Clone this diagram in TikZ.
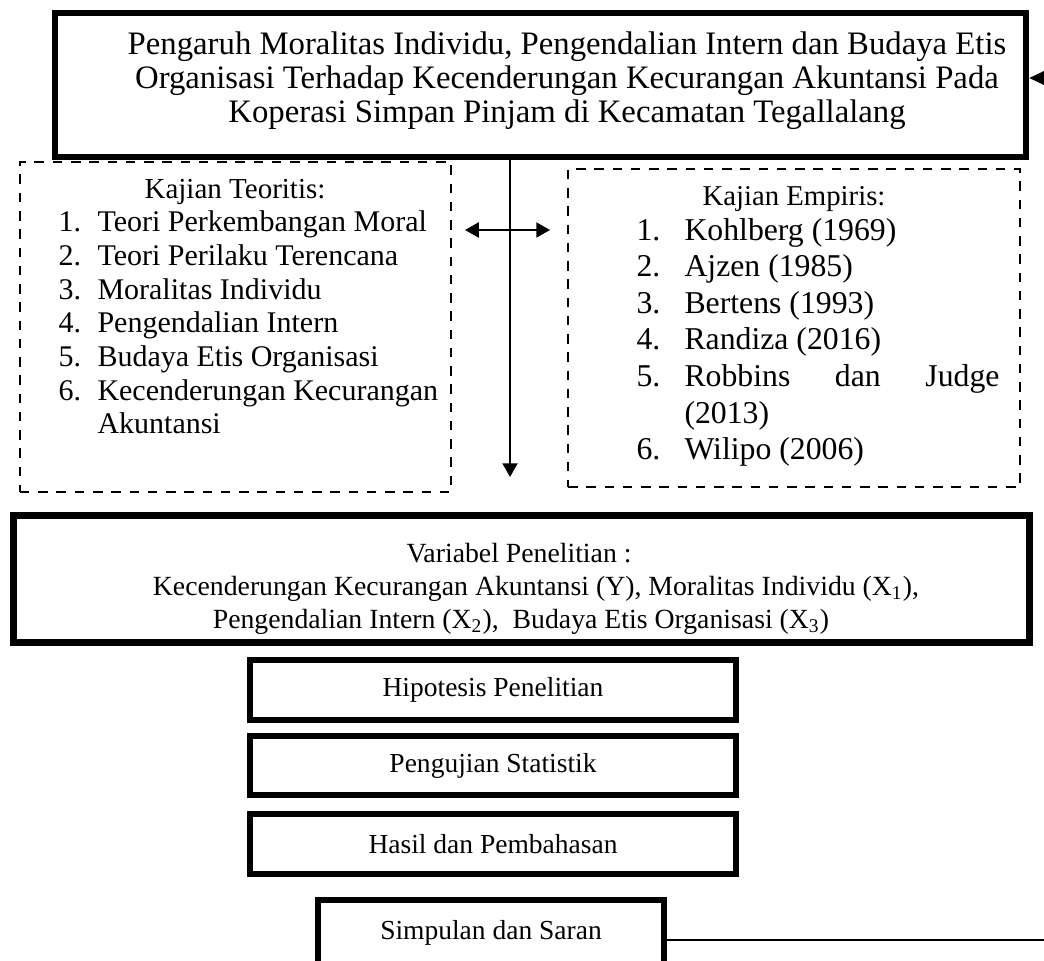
\documentclass[tikz,border=0pt]{standalone}
\usepackage{fontspec}
\setmainfont{Liberation Serif}
\usetikzlibrary{arrows.meta}
\tikzset{
	kotak/.style={draw, line width=2.6pt, inner sep=0pt, align=center, font=\fontsize{11}{13}\selectfont},
	putus/.style={draw, line width=0.8pt, dash pattern=on 3.8pt off 3.5pt, inner sep=0pt},
	teks/.style={inner sep=0pt, font=\fontsize{12}{13.5}\selectfont},
	teksb/.style={inner sep=0pt, font=\fontsize{12.7}{14.6}\selectfont},
	teksv/.style={inner sep=0pt, anchor=base, font=\fontsize{11.1}{13.2}\selectfont},
	panah/.style={line width=0.8pt, -{Triangle[length=5.5pt,width=6pt]}},
	duapanah/.style={line width=0.8pt, {Triangle[length=5.5pt,width=6pt]}-{Triangle[length=5.5pt,width=6pt]}},
}
\begin{document}
\begin{tikzpicture}[x=0.4pt,y=-0.4pt]
		\useasboundingbox (0,0) rectangle (1044,960);
		\clip (0,0) rectangle (1044,960);
		\node[kotak, minimum width=388.4pt, minimum height=57.6pt] (judul) at (540.5,85) {};
		\node[teks, anchor=base, font=\fontsize{13.1}{13.6}\selectfont] (judul1) at (567,54) {Pengaruh Moralitas Individu, Pengendalian Intern dan Budaya Etis};
		\node[teks, anchor=base, font=\fontsize{13.1}{13.6}\selectfont] (judul2) at (567,88) {Organisasi Terhadap Kecenderungan Kecurangan Akuntansi Pada};
		\node[teks, anchor=base, font=\fontsize{13.1}{13.6}\selectfont] (judul3) at (567,122) {Koperasi Simpan Pinjam di Kecamatan Tegallalang};
		\node[putus, minimum width=172.4pt, minimum height=132pt] (teori) at (235.5,327) {};
		\node[putus, minimum width=180.8pt, minimum height=127.2pt] (empiris) at (794,328) {};
		\node[teks, anchor=base, font=\fontsize{11.6}{13}\selectfont] (teori0) at (235,198) {Kajian Teoritis:};
		\foreach \i/\isi in {1/Teori Perkembangan Moral,2/Teori Perilaku Terencana,3/Moralitas Individu,4/Pengendalian Intern,5/Budaya Etis Organisasi,6/Kecenderungan Kecurangan}{
			\node[teks, anchor=base west] (tn\i) at (58,198+33.7*\i) {\i.};
			\node[teks, anchor=base west] (ti\i) at (97,198+33.7*\i) {\isi};
		}
		\node[teks, anchor=base west] (ti7) at (97,198+33.7*7) {Akuntansi};
		\node[teks, anchor=base, font=\fontsize{11.5}{13}\selectfont] (emp0) at (794,205) {Kajian Empiris:};
		\foreach \i/\isi in {1/Kohlberg (1969),2/Ajzen (1985),3/Bertens (1993),4/Randiza (2016)}{
			\node[teksb, anchor=base west] (en\i) at (636,203.4+36.6*\i) {\i.};
			\node[teksb, anchor=base west] (ei\i) at (684,203.4+36.6*\i) {\isi};
		}
		\node[teksb, anchor=base west] (en5) at (636,386.4) {5.};
		\node[teksb, anchor=base west] (ei5) at (684,386.4) {\makebox[126pt][s]{Robbins\hfill dan\hfill Judge}};
		\node[teksb, anchor=base west] (ei5b) at (684,423) {(2013)};
		\node[teksb, anchor=base west] (en6) at (636,459.6) {6.};
		\node[teksb, anchor=base west] (ei6) at (684,459.6) {Wilipo (2006)};
		\node[kotak, minimum width=406.4pt, minimum height=50.8pt] (variabel) at (521.5,579) {};
		\node[teksv] (var1) at (519,562) {Variabel Penelitian :};
		\node[teksv] (var2) at (536,595) {Kecenderungan Kecurangan Akuntansi (Y), Moralitas Individu (X\textsubscript{1}),};
		\node[teksv] (var3) at (521,628) {Pengendalian Intern (X\textsubscript{2}),\ \ Budaya Etis Organisasi (X\textsubscript{3})};
		\node[kotak, minimum width=194.4pt, minimum height=24pt] (hipotesis) at (493,690) {Hipotesis Penelitian};
		\node[kotak, minimum width=194.4pt, minimum height=23.6pt] (uji) at (493,765.5) {Pengujian Statistik};
		\node[kotak, minimum width=194.4pt, minimum height=24pt] (hasil) at (493,844) {Hasil dan Pembahasan};
		\node[kotak, minimum width=138.4pt, minimum height=26.4pt] (simpulan) at (491,933) {Simpulan dan Saran};
		\coordinate (ujungbawah) at (510,477);
		\coordinate (kiri) at (465,230);
		\coordinate (kanan) at (550,230);
		\coordinate (masuk) at (1044,78);
		\coordinate (keluar) at (1044,940);
		\draw[panah] (judul.south -| ujungbawah) -- (ujungbawah);
		\draw[duapanah] (kiri) -- (kanan);
		\draw[line width=0.8pt, -{Triangle[length=6pt,width=5.5pt]}] (masuk) -- (masuk -| judul.east);
		\draw[line width=0.7pt] (simpulan.east |- keluar) -- (keluar);
	\end{tikzpicture}
\end{document}
